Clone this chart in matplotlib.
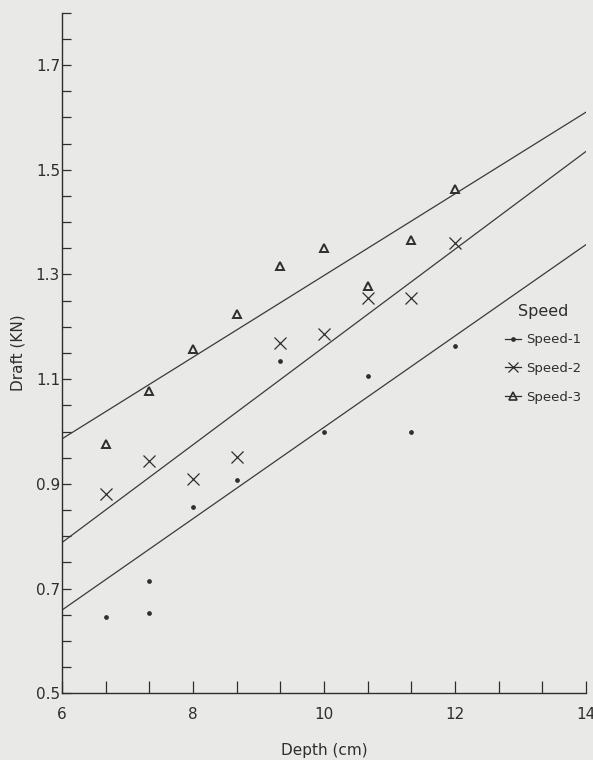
import numpy as np
import matplotlib
matplotlib.use("Agg")
import matplotlib.pyplot as plt
from matplotlib.ticker import MultipleLocator, FixedLocator

# Measured draft at each working depth, three forward speeds
depth_s1 = [6.67, 7.33, 7.33, 8.0, 8.67, 9.33, 10.0, 10.67, 11.33, 12.0]
draft_s1 = [0.646, 0.714, 0.654, 0.855, 0.908, 1.135, 1.0, 1.106, 1.0, 1.163]

depth_s2 = [6.67, 7.33, 8.0, 8.67, 9.33, 10.0, 10.67, 11.33, 12.0]
draft_s2 = [0.88, 0.944, 0.91, 0.951, 1.17, 1.186, 1.255, 1.255, 1.36]

depth_s3 = [6.67, 7.33, 8.0, 8.67, 9.33, 10.0, 10.67, 11.33, 12.0]
draft_s3 = [0.977, 1.078, 1.157, 1.225, 1.316, 1.35, 1.278, 1.365, 1.464]

# Fitted trend lines, given by their values at both ends of the depth range
fit_depth = [6.0, 14.0]
fit_s1 = [0.659, 1.357]
fit_s2 = [0.788, 1.535]
fit_s3 = [0.986, 1.610]

speed_labels = ["Speed-1", "Speed-2", "Speed-3"]

ink = "#2e2e2e"
paper = "#e9e9e7"

fig = plt.figure(figsize=(5.93, 7.6), dpi=100, facecolor=paper)
ax = fig.add_axes([0.1046, 0.0878, 0.8836, 0.8955], facecolor=paper)

for fit in (fit_s1, fit_s2, fit_s3):
    ax.plot(fit_depth, fit, color="#3a3a3a", lw=0.9, zorder=2)

ax.plot(depth_s1, draft_s1, ls="none", marker="o", ms=2.4, color=ink, zorder=3)
ax.plot(depth_s2, draft_s2, ls="none", marker="x", ms=8, mew=0.9, color=ink, zorder=3)
ax.plot(depth_s3, draft_s3, ls="none", marker="^", ms=6, mew=1.4,
        mfc="none", mec=ink, zorder=3)

ax.set_xlim(6, 14)
ax.set_ylim(0.5, 1.8)

for side in ("top", "right"):
    ax.spines[side].set_visible(False)
for side in ("left", "bottom"):
    ax.spines[side].set_color(ink)
    ax.spines[side].set_linewidth(1.0)

ax.xaxis.set_major_locator(FixedLocator([6, 8, 10, 12, 14]))
ax.xaxis.set_minor_locator(FixedLocator(np.arange(6, 14.01, 2 / 3)))
ax.yaxis.set_major_locator(FixedLocator([0.5, 0.7, 0.9, 1.1, 1.3, 1.5, 1.7]))
ax.yaxis.set_minor_locator(MultipleLocator(0.05))

ax.tick_params(axis="x", which="both", direction="in", length=8.5, width=0.9,
               color=ink, pad=10, labelsize=11, labelcolor=ink)
ax.tick_params(axis="y", which="both", direction="in", length=6.5, width=0.9,
               color=ink, pad=1.5, labelsize=11, labelcolor=ink)
ax.set_xticklabels(["6", "8", "10", "12", "14"])
ax.set_yticklabels(["0.5", "0.7", "0.9", "1.1", "1.3", "1.5", "1.7"])

ax.set_xlabel("Depth (cm)", fontsize=11, color=ink, labelpad=15)
ax.set_ylabel("Draft (KN)", fontsize=11, color=ink)
ax.yaxis.set_label_coords(-0.07, 0.5)

# Legend keys: short line with the series marker
h1, = ax.plot([], [], color=ink, lw=0.9, marker="o", ms=2.4)
h2, = ax.plot([], [], color=ink, lw=0.9, marker="x", ms=7, mew=0.9)
h3, = ax.plot([], [], color=ink, lw=0.9, marker="^", ms=6, mew=1.2, mfc="none")
leg = fig.legend([h1, h2, h3], speed_labels, title="Speed", frameon=False,
                 loc="upper left", bbox_to_anchor=(500 / 593, 1 - 299 / 760),
                 fontsize=9.5, title_fontsize=11.5, handlelength=1.2,
                 handletextpad=0.35, labelspacing=1.2, borderaxespad=0)
leg._legend_box.sep = 10
for t in leg.get_texts():
    t.set_color(ink)
leg.get_title().set_color(ink)

fig.savefig("out.png", dpi=100, facecolor=paper)
